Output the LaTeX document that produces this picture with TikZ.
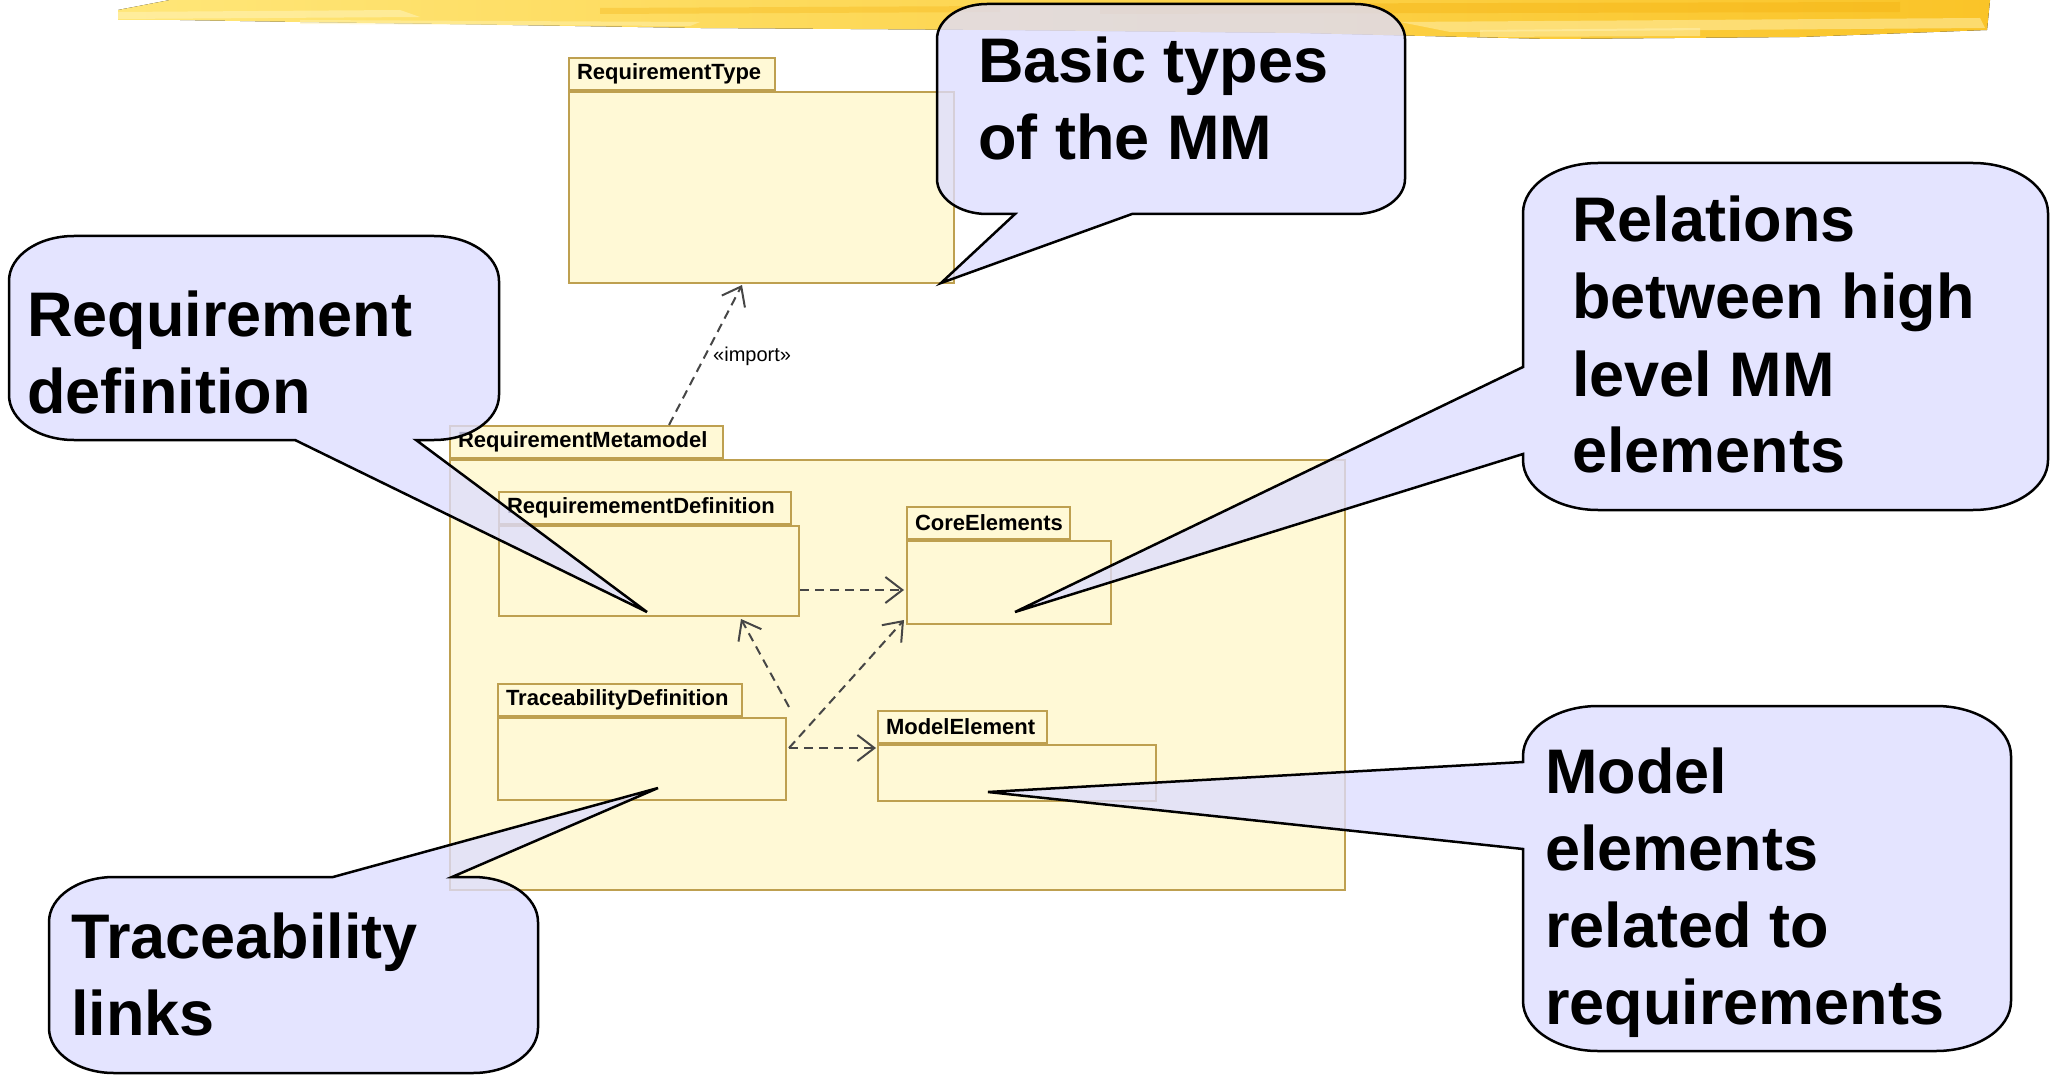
\documentclass[tikz,border=0pt]{standalone}
\usepackage{fontspec}
\setmainfont{Liberation Sans}
\usetikzlibrary{arrows.meta,calc}
\definecolor{pkgfill}{RGB}{255,249,214}
\definecolor{pkgline}{RGB}{190,160,80}
\definecolor{callfill}{RGB}{221,221,255}
\definecolor{arrowgray}{RGB}{70,70,70}
\definecolor{bandA}{RGB}{255,230,120}
\definecolor{bandB}{RGB}{250,196,40}
\definecolor{bandC}{RGB}{255,242,180}
\definecolor{bandD}{RGB}{245,180,20}
\begin{document}
\begin{tikzpicture}[x=1pt,y=-1pt,
  pkgbody/.style={draw=pkgline, fill=pkgfill, line width=2pt, inner sep=0pt, anchor=north west},
  pkgtab/.style={draw=pkgline, fill=pkgfill, line width=2pt, inner xsep=8pt, inner ysep=0pt, anchor=south west, minimum height=32pt, text width=#1, align=left, font=\fontsize{22}{26}\selectfont\bfseries},
  dep/.style={draw=arrowgray, line width=2pt, dash pattern=on 9pt off 6pt, -{Straight Barb[length=17pt,width=26pt]}},
  callout/.style={draw=black, line width=2.5pt, fill=callfill, fill opacity=0.78},
  calltext/.style={anchor=base west, inner sep=0pt, font=\fontsize{63}{77}\selectfont\bfseries},
  deplabel/.style={anchor=base west, inner sep=0pt, font=\fontsize{20}{24}\selectfont}
]
\useasboundingbox (0,0) rectangle (2052,1075);
\fill[white] (0,0) rectangle (2052,1075);

% top brush band
\fill[left color=bandA, right color=bandB] (118,10) -- (170,0) -- (1990,0) -- (1987,30) -- (1800,37) -- (1550,39) -- (1300,33) -- (1000,30) -- (700,28) -- (450,24) -- (300,22) -- (180,20) -- (118,20) -- cycle;
\fill[bandC, opacity=0.6] (118,12) -- (400,10) -- (420,17) -- (118,19) -- cycle;
\fill[bandC, opacity=0.5] (300,20) -- (700,22) -- (690,26) -- (300,24) -- cycle;
\fill[bandC, opacity=0.5] (1400,22) -- (1980,18) -- (1985,28) -- (1450,32) -- cycle;
\fill[bandD, opacity=0.45] (1100,4) -- (1900,2) -- (1900,12) -- (1100,14) -- cycle;
\fill[bandD, opacity=0.35] (600,8) -- (1000,6) -- (1000,12) -- (600,14) -- cycle;
\fill[bandC, opacity=0.5] (1480,30) -- (1700,28) -- (1700,36) -- (1480,37) -- cycle;

% packages
\node[pkgbody, minimum width=385pt, minimum height=191pt] (rt) at (568,91) {};
\node[pkgtab=190pt] (rttab) at (rt.north west) {RequirementType};

\node[pkgbody, minimum width=895pt, minimum height=430pt] (rm) at (449,459) {};
\node[pkgtab=257pt] (rmtab) at (rm.north west) {RequirementMetamodel};

\node[pkgbody, minimum width=300pt, minimum height=90pt] (rd) at (498,525) {};
\node[pkgtab=276pt] (rdtab) at (rd.north west) {RequiremementDefinition};

\node[pkgbody, minimum width=204pt, minimum height=83pt] (ce) at (906,540) {};
\node[pkgtab=147pt] (cetab) at (ce.north west) {CoreElements};

\node[pkgbody, minimum width=288pt, minimum height=82pt] (td) at (497,717) {};
\node[pkgtab=228pt] (tdtab) at (td.north west) {TraceabilityDefinition};

\node[pkgbody, minimum width=278pt, minimum height=56pt] (me) at (877,744) {};
\node[pkgtab=153pt] (metab) at (me.north west) {ModelElement};

% dependencies
\draw[dep] ($(rmtab.north east)+(-55,0)$) -- ($(rt.south west)+(174,1)$);
\node[deplabel] (imp) at (713,361) {«import»};
\draw[dep] ($(rd.south east)+(0,-27)$) -- ($(ce.south west)+(-2,-35)$);
\draw[dep] ($(td.north east)+(2,-10)$) -- ($(rd.south east)+(-59,2)$);
\draw[dep] ($(td.north east)+(2,31)$) -- ($(ce.south west)+(-2,-5)$);
\draw[dep] ($(td.north east)+(2,31)$) -- ($(me.north west)+(-1,4)$);

% callouts
\draw[callout] (1132,214) -- (1355,214) .. controls (1383,214) and (1405,198) .. (1405,179) -- (1405,39) .. controls (1405,20) and (1383,4) .. (1355,4) -- (987,4) .. controls (959,4) and (937,20) .. (937,39) -- (937,179) .. controls (937,198) and (959,214) .. (987,214) -- (1015,214) -- (941,283) -- cycle;
\node[calltext] (cbasic) at (978,83) {\begin{tabular}[t]{@{}l@{}}Basic types\\of the MM\end{tabular}};

\draw[callout] (416,440) -- (434,440) .. controls (470,440) and (499,420) .. (499,395) -- (499,281) .. controls (499,256) and (470,236) .. (434,236) -- (74,236) .. controls (38,236) and (9,256) .. (9,281) -- (9,395) .. controls (9,420) and (38,440) .. (74,440) -- (295,440) -- (647,612) -- cycle;
\node[calltext] (creq) at (27,336) {\begin{tabular}[t]{@{}l@{}}Requirement\\definition\end{tabular}};

\draw[callout] (1523,367) -- (1523,213) .. controls (1523,185) and (1557,163) .. (1598,163) -- (1973,163) .. controls (2014,163) and (2048,185) .. (2048,213) -- (2048,460) .. controls (2048,488) and (2014,510) .. (1973,510) -- (1598,510) .. controls (1557,510) and (1523,488) .. (1523,460) -- (1523,454) -- (1015,612) -- cycle;
\node[calltext] (crel) at (1572,242) {\begin{tabular}[t]{@{}l@{}}Relations\\between high\\level MM\\elements\end{tabular}};

\draw[callout] (1523,762) -- (1523,756) .. controls (1523,728) and (1557,706) .. (1598,706) -- (1936,706) .. controls (1977,706) and (2011,728) .. (2011,756) -- (2011,1001) .. controls (2011,1029) and (1977,1051) .. (1936,1051) -- (1598,1051) .. controls (1557,1051) and (1523,1029) .. (1523,1001) -- (1523,849) -- (988,792) -- cycle;
\node[calltext] (cmod) at (1545,793) {\begin{tabular}[t]{@{}l@{}}Model\\elements\\related to\\requirements\end{tabular}};

\draw[callout] (452,877) -- (473,877) .. controls (509,877) and (538,897) .. (538,922) -- (538,1028) .. controls (538,1053) and (509,1073) .. (473,1073) -- (114,1073) .. controls (78,1073) and (49,1053) .. (49,1028) -- (49,922) .. controls (49,897) and (78,877) .. (114,877) -- (333,877) -- (658,788) -- cycle;
\node[calltext] (ctrace) at (71,958) {\begin{tabular}[t]{@{}l@{}}Traceability\\links\end{tabular}};
\end{tikzpicture}
\end{document}
